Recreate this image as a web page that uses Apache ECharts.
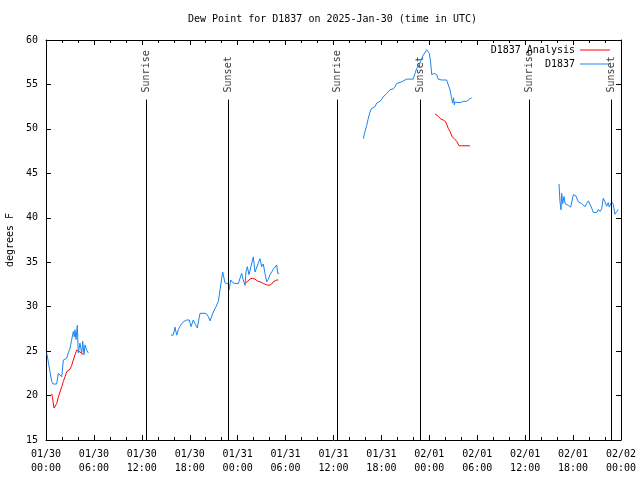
<!DOCTYPE html>
<html><head><meta charset="utf-8">
<script src="https://cdn.jsdelivr.net/npm/echarts@6/dist/echarts.min.js"></script>
<style>html,body{margin:0;padding:0;background:#fff}#c{width:640px;height:480px}</style>
</head><body><div id="c"></div>
<script>
// hours since 2025-01-30 00:00 UTC; null separates segments
const obsHours = [0.09,0.71,0.88,1.34,1.54,1.75,1.97,2.17,2.38,2.59,2.79,3.0,3.22,3.42,3.54,3.63,3.76,3.92,4.04,4.26,4.47,4.6,4.76,4.88,5.1,5.3,
 10,
 15.65,15.94,16.15,16.37,16.57,16.78,17.19,17.62,17.94,18.16,18.44,18.72,18.95,19.28,19.5,20.03,20.32,20.54,20.95,21.29,21.58,21.79,22.0,22.13,22.29,22.41,22.63,22.83,22.92,23.13,23.38,23.67,24.08,24.29,24.5,24.67,24.92,25.04,25.21,25.42,25.63,25.8,25.96,26.17,26.38,26.58,26.8,27.01,27.21,27.42,27.63,27.84,28.05,28.46,28.68,28.89,29.01,29.21,
 35,
 39.73,39.94,40.16,40.36,40.57,40.78,40.98,41.19,41.41,41.82,42.24,42.66,43.08,43.49,43.7,43.92,44.11,44.54,45.17,45.99,46.21,46.42,46.83,47.04,47.25,47.46,47.67,47.87,48.0,48.17,48.3,48.37,48.62,48.92,49.12,49.55,50.17,50.37,50.59,50.8,50.93,51.03,51.13,51.21,51.43,51.84,52.25,52.67,53.09,53.3,
 60,
 64.24,64.36,64.49,64.57,64.7,64.86,64.99,65.2,65.4,65.7,65.95,66.03,66.36,66.65,66.87,67.08,67.28,67.49,67.71,67.91,68.03,68.33,68.53,68.96,69.16,69.37,69.58,69.78,69.99,70.2,70.4,70.53,70.83,71.03,71.24,71.46,71.66];
const obsDew = [24.8,21.6,21.3,21.3,22.5,22.3,22.1,24.0,24.1,24.2,24.8,25.3,26.3,27.2,26.6,27.4,26.3,27.9,24.8,25.9,24.7,26.1,24.6,25.7,25.1,24.8,
 null,
 26.8,26.8,27.7,26.8,27.4,27.8,28.3,28.5,28.5,27.75,28.5,28.0,27.6,29.25,29.25,29.25,28.9,28.4,29.4,30.0,30.6,31.9,33.2,33.9,33.2,32.7,32.6,32.55,31.9,33.0,32.7,32.6,32.6,32.8,33.75,33.1,32.4,33.9,34.5,33.6,34.4,34.3,35.6,33.9,34.0,34.9,35.4,34.5,34.8,33.75,32.8,33.1,33.6,34.2,34.1,34.7,33.75,33.75,
 null,
 48.9,49.7,50.4,51.2,51.9,52.3,52.1,52.5,52.9,53.1,53.6,54.0,54.4,54.5,54.75,55.1,54.9,55.3,55.6,55.6,56.25,56.8,57.4,57.9,58.3,58.5,58.9,59.06,58.5,57.4,56.1,56.3,56.25,56.1,55.6,55.5,55.5,55.3,54.4,53.4,52.9,53.5,52.7,53.0,52.95,52.95,53.1,53.1,53.4,53.5,
 null,
 43.8,41.8,40.9,42.75,41.6,42.4,41.6,41.6,41.4,41.2,41.2,42.6,42.45,41.8,41.9,41.6,41.8,41.25,41.6,41.9,42.1,41.1,40.6,40.6,40.95,40.7,41.0,42.2,41.8,41.3,41.7,41.2,41.8,41.5,40.4,40.7,40.95];
const anaHours = [0.71,0.81,1.0,1.34,1.54,1.75,1.97,2.17,2.38,2.59,3.0,3.22,3.42,3.63,3.84,4.04,4.26,4.47,4.67,
 15,
 24.83,25.17,25.54,25.83,26.17,26.46,26.8,27.21,27.63,27.96,28.26,28.46,28.89,29.09,
 40,
 48.71,49.12,49.46,49.75,50.05,50.37,50.59,50.87,51.13,51.43,51.72,52.05,53.09];
const anaDew = [20.2,19.8,18.6,19.1,19.8,20.4,21.0,21.6,22.1,22.7,22.95,23.4,24.0,24.6,25.1,25.2,24.9,24.8,24.6,
 null,
 32.55,32.8,33.1,33.2,33.1,32.9,32.8,32.6,32.45,32.4,32.55,32.8,33.0,33.0,
 null,
 51.7,51.4,51.1,51.0,50.8,50.06,49.7,49.1,48.9,48.6,48.1,48.1,48.1];
const sunHours = [12.52, 22.83, 36.46, 46.83, 60.5, 70.74];
const sunNames = ['Sunrise','Sunset','Sunrise','Sunset','Sunrise','Sunset'];
const yTicks = [15,20,25,30,35,40,45,50,55,60];

const FONT = 'DejaVu Sans Mono';
function zip(h, v){ return h.map((x,i)=>[x, v[i]]); }
function fmtHour(h){
  const d = Math.floor(h/24 + 1e-9), hh = Math.round(h - d*24);
  let mon = '01', day = 30 + d;
  if (day > 31) { mon = '02'; day -= 31; }
  return mon + '/' + String(day).padStart(2,'0') + '\n' + String(hh).padStart(2,'0') + ':00';
}
const LINE_TOP = 53.3, LABEL_Y = 54.1;
const tickCommon = {show:true, inside:true, length:5, lineStyle:{color:'#000', width:1}};
const minorCommon = {show:true, splitNumber:3, length:3, lineStyle:{color:'#000', width:1}};
const chart = echarts.init(document.getElementById('c'), null, {renderer:'canvas'});
chart.setOption({
  animation:false,
  title:{text:'Dew Point for D1837 on 2025-Jan-30 (time in UTC)', left:188, top:14, padding:0,
    textStyle:{fontFamily:FONT, fontSize:10, fontWeight:'normal', color:'#000'}},
  legend:[
    {data:['D1837 Analysis'], right:30, top:45, padding:0, orient:'vertical', align:'right', icon:'rect', itemWidth:30, itemHeight:1,
      textStyle:{fontFamily:FONT, fontSize:10, color:'#000'}},
    {data:['D1837'], right:30, top:59, padding:0, orient:'vertical', align:'right', icon:'rect', itemWidth:30, itemHeight:1,
      textStyle:{fontFamily:FONT, fontSize:10, color:'#000'}}
  ],
  grid:{left:46, right:19, top:40, bottom:40, containLabel:false, outerBoundsMode:'none'},
  xAxis:[
    {type:'value', min:0, max:72, interval:6, position:'bottom',
      axisLine:{show:true, onZero:false, lineStyle:{color:'#000'}},
      axisTick:tickCommon, minorTick:minorCommon, splitLine:{show:false},
      axisLabel:{formatter:fmtHour, fontFamily:FONT, fontSize:10, color:'#000', lineHeight:14, margin:7, hideOverlap:false}},
    {type:'value', min:0, max:72, interval:6, position:'top',
      axisLine:{show:true, onZero:false, lineStyle:{color:'#000'}},
      axisTick:tickCommon, minorTick:minorCommon, splitLine:{show:false}, axisLabel:{show:false}}
  ],
  yAxis:[
    {type:'value', min:yTicks[0], max:yTicks[yTicks.length-1], interval:5, position:'left',
      name:'degrees F', nameLocation:'middle', nameGap:31, nameRotate:90,
      nameTextStyle:{fontFamily:FONT, fontSize:10, color:'#000'},
      axisLine:{show:true, onZero:false, lineStyle:{color:'#000'}},
      axisTick:tickCommon, splitLine:{show:false},
      axisLabel:{fontFamily:FONT, fontSize:10, color:'#000', margin:8}},
    {type:'value', min:yTicks[0], max:yTicks[yTicks.length-1], interval:5, position:'right',
      axisLine:{show:true, onZero:false, lineStyle:{color:'#000'}},
      axisTick:tickCommon, splitLine:{show:false}, axisLabel:{show:false}}
  ],
  series:[
    {name:'D1837 Analysis', type:'line', data:zip(anaHours, anaDew), showSymbol:false, connectNulls:false,
      lineStyle:{color:'#ff0000', width:1}, itemStyle:{color:'#ff0000'}},
    {name:'D1837', type:'line', data:zip(obsHours, obsDew), showSymbol:false, connectNulls:false,
      lineStyle:{color:'#1a84f0', width:1}, itemStyle:{color:'#1a84f0'}},
    {name:'sun', type:'scatter', symbolSize:1, itemStyle:{color:'rgba(0,0,0,0)'}, silent:true,
      data:sunHours.map((h,i)=>({value:[h, LABEL_Y], name:sunNames[i]})),
      label:{show:true, position:'inside', formatter:'{b}', rotate:90, align:'left', verticalAlign:'middle',
        fontFamily:FONT, fontSize:10, color:'#000'},
      markLine:{silent:true, symbol:'none', animation:false,
        lineStyle:{color:'#000', width:1, type:'solid'}, label:{show:false},
        data:sunHours.map(h=>[{coord:[h, yTicks[0]]},{coord:[h, LINE_TOP]}])}}
  ]
});
</script></body></html>
